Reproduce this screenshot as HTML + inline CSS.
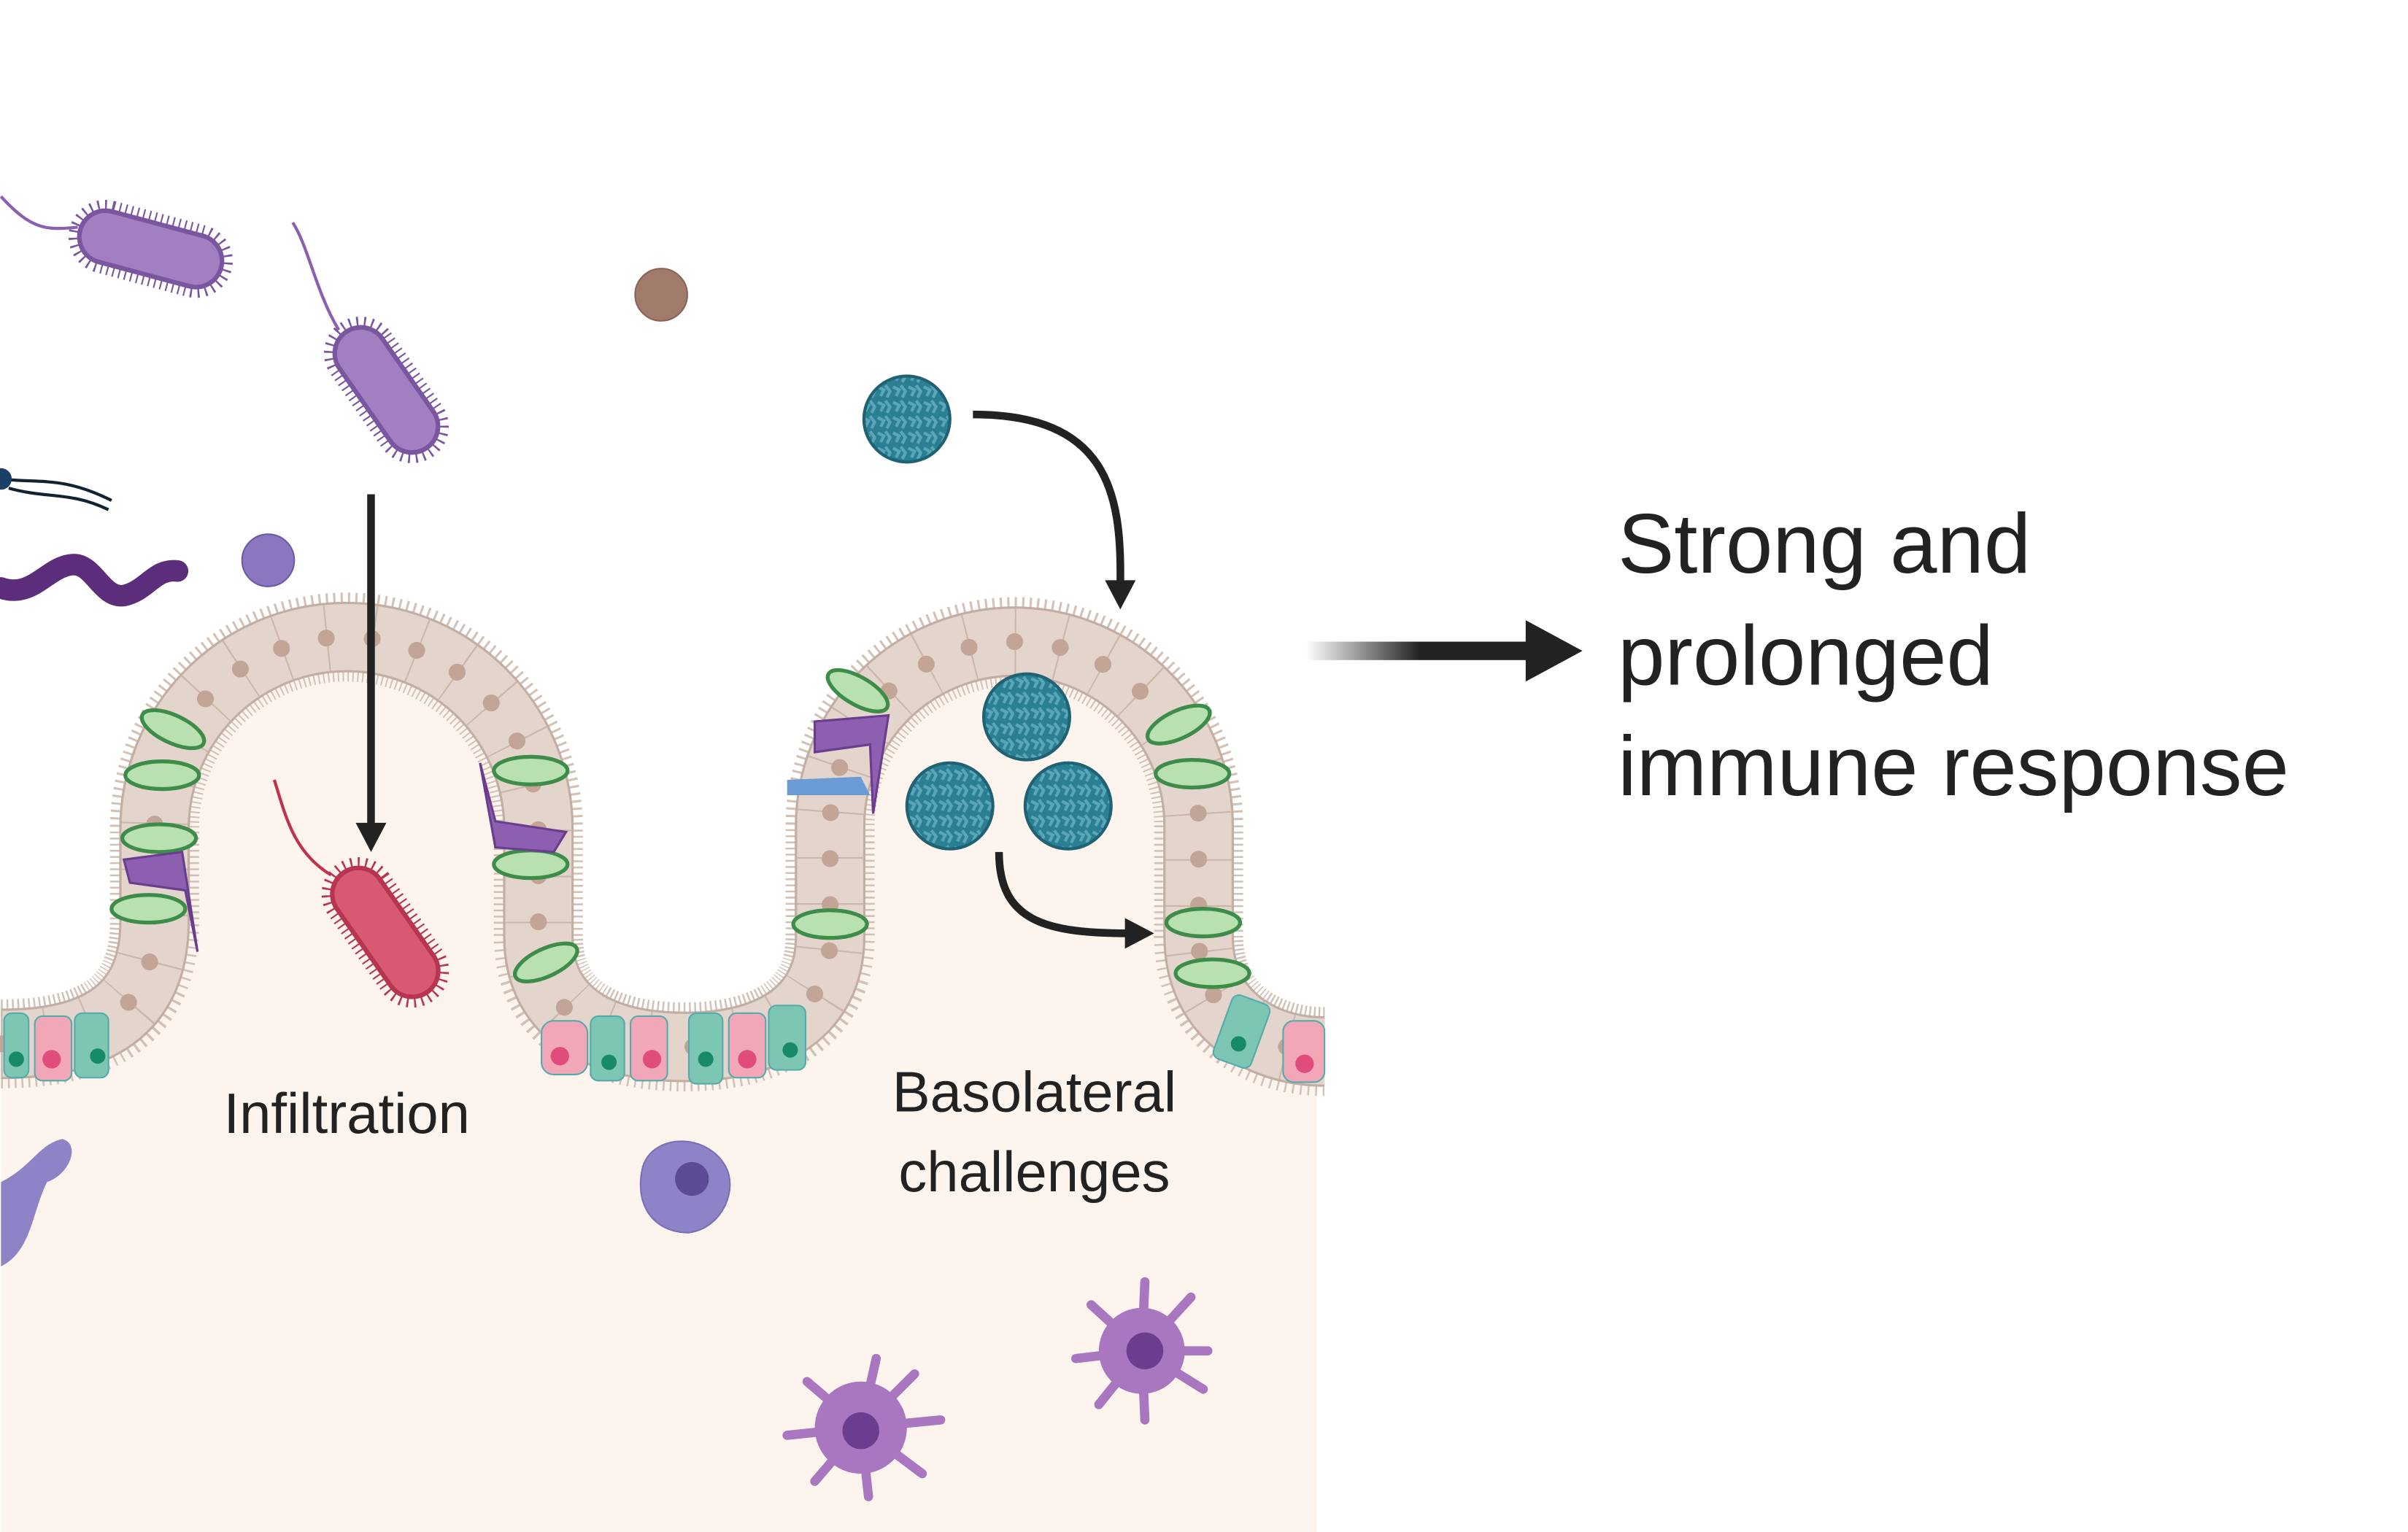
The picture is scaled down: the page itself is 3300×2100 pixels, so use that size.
<!DOCTYPE html>
<html><head><meta charset="utf-8"><style>
html,body{margin:0;padding:0;background:#fff;}
svg{display:block;}
text{font-family:"Liberation Sans",sans-serif;fill:#222;}
</style></head><body>
<svg width="3300" height="2100" viewBox="0 0 1567 998" xmlns="http://www.w3.org/2000/svg">
<defs>
<linearGradient id="g1" x1="0" x2="1"><stop offset="0" stop-color="#222" stop-opacity="0"/><stop offset="0.5" stop-color="#222"/><stop offset="1" stop-color="#222"/></linearGradient>
<pattern id="vp" width="10" height="10" patternUnits="userSpaceOnUse"><rect width="10" height="10" fill="#2a7f93"/><path d="M1 2 L5 4 L3 8 M6 1 L9 5 L7 9" stroke="#5aa6b8" stroke-width="2" fill="none"/></pattern>
<path id="ep" d="M0,680 C60,680 100,660 100,600 L100,540 A125,125 0 0 1 350,540 L350,610 C350,660 390,682 445,682 C500,682 540,660 540,610 L540,538 A120,120 0 0 1 780,538 L780,610 C780,660 820,685 862,685"/>
</defs>
<!-- lamina propria -->
<path d="M0,680 C60,680 100,660 100,600 L100,540 A125,125 0 0 1 350,540 L350,610 C350,660 390,682 445,682 C500,682 540,660 540,610 L540,538 A120,120 0 0 1 780,538 L780,610 C780,660 820,685 857,685 L857,998 L0,998 Z" fill="#fdf4ee"/>
<!-- epithelium -->
<g fill="none">
<use href="#ep" stroke="#d3c1b6" stroke-width="58" stroke-dasharray="1.2 2.8"/>
<use href="#ep" stroke="#c2aea3" stroke-width="46"/>
<use href="#ep" stroke="#e3d5cc" stroke-width="43"/>
<use href="#ep" stroke="#cbb6aa" stroke-width="43" stroke-dasharray="1 29"/>
<use href="#ep" stroke="#c2a596" stroke-width="11" stroke-linecap="round" stroke-dasharray="0 30"/>
</g>
<!-- green goblet cells -->
<g fill="#b9e0b0" stroke="#3e8c4a" stroke-width="2.5">
<ellipse cx="112" cy="475" rx="22" ry="9" transform="rotate(25 112 475)"/>
<ellipse cx="105" cy="505" rx="24" ry="9"/>
<ellipse cx="103" cy="546" rx="24" ry="9"/>
<ellipse cx="96" cy="592" rx="24" ry="9"/>
<ellipse cx="345" cy="502" rx="24" ry="9"/>
<ellipse cx="345" cy="563" rx="24" ry="9"/>
<ellipse cx="355" cy="627" rx="22" ry="9" transform="rotate(-25 355 627)"/>
<ellipse cx="558" cy="450" rx="22" ry="9" transform="rotate(30 558 450)"/>
<ellipse cx="540" cy="602" rx="24" ry="9"/>
<ellipse cx="767" cy="472" rx="22" ry="9" transform="rotate(-25 767 472)"/>
<ellipse cx="776" cy="504" rx="24" ry="9"/>
<ellipse cx="783" cy="601" rx="24" ry="9"/>
<ellipse cx="789" cy="634" rx="24" ry="9"/>
</g>
<!-- purple tuft cells -->
<g fill="#8c5fb0" stroke="#6a3d8e" stroke-width="1.5">
<path d="M80,560 L118,555 L128,620 L120,580 L84,575Z"/>
<path d="M312,497 L322,535 L368,542 L360,555 L322,552Z"/>
<path d="M530,470 L578,466 L568,530 L566,485 L530,490Z"/>
</g>
<path d="M512,508 L560,506 L566,518 L512,518Z" fill="#6a9bd4"/>
<!-- base cells -->
<g stroke="#5aa" stroke-width="1">
<rect x="2" y="660" width="16" height="42" rx="5" fill="#7cc6b3"/>
<rect x="22" y="662" width="24" height="42" rx="5" fill="#f2a7b8"/>
<rect x="48" y="660" width="22" height="42" rx="5" fill="#7cc6b3"/>
<rect x="352" y="665" width="30" height="35" rx="8" fill="#f2a7b8"/>
<rect x="384" y="662" width="22" height="42" rx="5" fill="#7cc6b3"/>
<rect x="410" y="662" width="24" height="42" rx="5" fill="#f2a7b8"/>
<rect x="448" y="660" width="22" height="46" rx="5" fill="#7cc6b3"/>
<rect x="474" y="660" width="24" height="42" rx="5" fill="#f2a7b8"/>
<rect x="500" y="655" width="24" height="42" rx="5" fill="#7cc6b3"/>
<rect x="795" y="650" width="26" height="44" rx="5" fill="#7cc6b3" transform="rotate(20 808 672)"/>
<rect x="835" y="665" width="27" height="40" rx="7" fill="#f2a7b8"/>
</g>
<g fill="#e04c7c"><circle cx="33" cy="690" r="6"/><circle cx="364" cy="688" r="6"/><circle cx="424" cy="690" r="6"/><circle cx="486" cy="690" r="6"/><circle cx="849" cy="693" r="6"/></g>
<g fill="#178a6a"><circle cx="10" cy="690" r="5"/><circle cx="63" cy="688" r="5"/><circle cx="396" cy="692" r="5"/><circle cx="459" cy="690" r="5"/><circle cx="514" cy="684" r="5"/><circle cx="806" cy="680" r="5"/></g>
<!-- bacteria -->
<g>
<path d="M0,128 C20,150 30,150 50,148" stroke="#8c5fb0" fill="none" stroke-width="2"/>
<rect x="50" y="145" width="95" height="34" rx="17" fill="none" stroke="#7a55a0" stroke-width="14" stroke-dasharray="1 3" transform="rotate(15 97 162)"/>
<rect x="50" y="145" width="95" height="34" rx="17" fill="#a27fc0" stroke="#7a55a0" stroke-width="3" transform="rotate(15 97 162)"/>
<path d="M190,145 C200,160 205,190 220,215" stroke="#8c5fb0" fill="none" stroke-width="2"/>
<rect x="205" y="237" width="92" height="34" rx="17" fill="none" stroke="#7a55a0" stroke-width="14" stroke-dasharray="1 3" transform="rotate(55 251 254)"/>
<rect x="205" y="237" width="92" height="34" rx="17" fill="#a27fc0" stroke="#7a55a0" stroke-width="3" transform="rotate(55 251 254)"/>
<path d="M178,508 C185,530 190,555 215,570" stroke="#c0324e" fill="none" stroke-width="2"/>
<rect x="203" y="590" width="95" height="34" rx="17" fill="none" stroke="#b83552" stroke-width="14" stroke-dasharray="1 3" transform="rotate(55 250 607)"/>
<rect x="203" y="590" width="95" height="34" rx="17" fill="#d75a72" stroke="#b83552" stroke-width="3" transform="rotate(55 250 607)"/>
<path d="M0,383 C20,390 30,370 45,368 C60,365 65,390 80,388 C95,385 100,370 115,372" stroke="#5b2d7a" stroke-width="14" fill="none" stroke-linecap="round"/>
<path d="M0,312 C25,315 40,310 72,326 M5,318 C30,325 45,320 70,332" stroke="#123" stroke-width="2" fill="none"/>
<circle cx="0" cy="312" r="7" fill="#1c3f66"/>
</g>
<circle cx="430" cy="192" r="17" fill="#a07b6c" stroke="#8a6556"/>
<circle cx="174" cy="365" r="17" fill="#8a77c0" stroke="#6c5aa5"/>
<!-- viruses -->
<g stroke="#1f6274" stroke-width="2" fill="url(#vp)">
<circle cx="590" cy="273" r="28"/><circle cx="668" cy="467" r="28"/><circle cx="618" cy="525" r="28"/><circle cx="695" cy="525" r="28"/>
</g>
<!-- immune cells -->
<path d="M418,760 C425,738 460,738 472,760 C480,775 470,800 448,803 C425,803 412,785 418,760Z" fill="#8f83c8" stroke="#7a6fb8"/>
<circle cx="450" cy="768" r="11" fill="#5c4a95"/>
<path d="M0,770 C20,760 25,745 40,742 C52,745 45,765 30,770 C20,790 20,815 0,825Z" fill="#8f83c8"/>
<g fill="#a877c0">
<circle cx="560" cy="930" r="30"/><circle cx="743" cy="880" r="28"/>
<g stroke="#a877c0" stroke-width="6" stroke-linecap="round">
<path d="M560,930 L525,900 M560,930 L512,935 M560,930 L530,965 M560,930 L565,975 M560,930 L600,960 M560,930 L612,925 M560,930 L595,895 M560,930 L570,885"/>
<path d="M743,880 L710,850 M743,880 L700,885 M743,880 L715,915 M743,880 L745,925 M743,880 L783,905 M743,880 L786,880 M743,880 L775,845 M743,880 L745,835"/>
</g></g>
<circle cx="560" cy="932" r="12" fill="#6a3d8e"/><circle cx="745" cy="880" r="12" fill="#6a3d8e"/>
<!-- arrows -->
<g stroke="#222" stroke-width="5" fill="none">
<path d="M241,322 L241,540"/>
<path d="M633,270 C720,270 730,320 729,380"/>
<path d="M650,555 C650,600 680,608 735,608"/>
</g>
<g fill="#222">
<path d="M231,536 L251,536 L241,555Z"/>
<path d="M719,378 L739,378 L729,397Z"/>
<path d="M732,598 L732,618 L751,608Z"/>
</g>
<rect x="850" y="418" width="148" height="12" fill="url(#g1)"/>
<path d="M993,404 L1030,424 L993,444Z" fill="#222"/>
<!-- text -->
<text x="1053" y="373" font-size="55">Strong and</text>
<text x="1053" y="446" font-size="55">prolonged</text>
<text x="1053" y="518" font-size="55">immune response</text>
<text x="145" y="738" font-size="37">Infiltration</text>
<text x="673" y="724" font-size="37" text-anchor="middle">Basolateral</text>
<text x="673" y="776" font-size="37" text-anchor="middle">challenges</text>
</svg>
</body></html>
